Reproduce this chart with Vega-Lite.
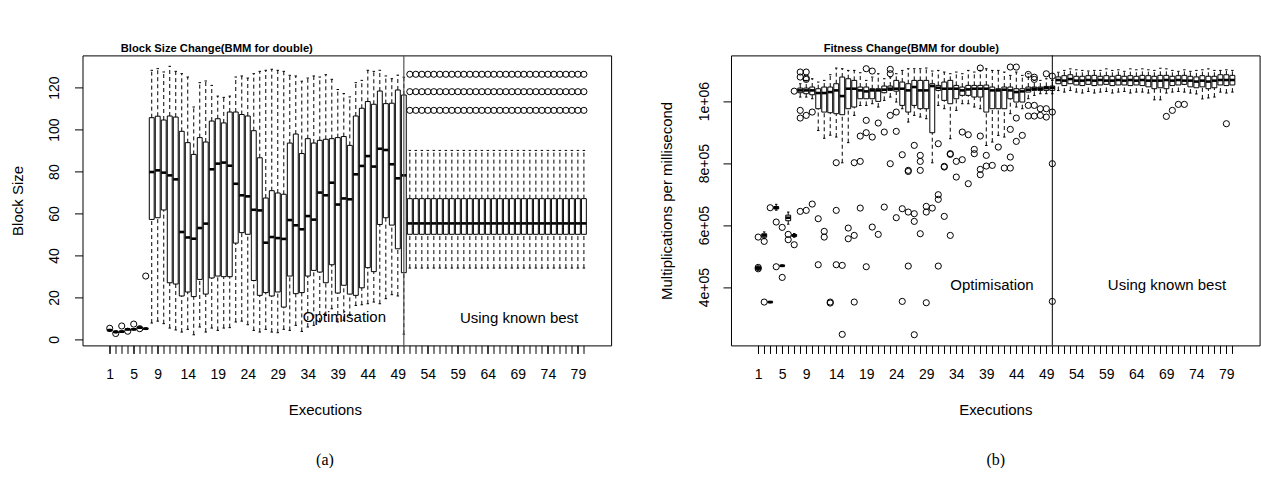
{
  "$schema": "https://vega.github.io/schema/vega-lite/v6.json",
  "padding": {"left": 9.5, "top": 41.4, "right": 0, "bottom": 0},
  "spacing": 46.5,
  "config": {
    "font": "Liberation Sans",
    "view": {"stroke": "black", "strokeWidth": 1},
    "axis": {"domain": false, "grid": false, "ticks": true, "tickColor": "black", "tickSize": 8, "tickWidth": 1, "labelColor": "black", "labelFont": "Liberation Sans", "labelFontSize": 14, "titleFont": "Liberation Sans", "titleFontSize": 15, "titleFontWeight": "normal", "titleColor": "black", "labelFlush": false}
  },
  "datasets": {
    "boxesA": [
      {"e":1,"lo":3.9,"q1":4.1,"md":4.4,"q3":4.6,"hi":4.8},
      {"e":2,"lo":3.1,"q1":3.3,"md":3.5,"q3":3.7,"hi":3.9},
      {"e":3,"lo":3.3,"q1":3.5,"md":3.7,"q3":3.9,"hi":4.1},
      {"e":4,"lo":4.5,"q1":4.6,"md":4.8,"q3":5.0,"hi":5.2},
      {"e":5,"lo":4.5,"q1":4.6,"md":4.8,"q3":5.0,"hi":5.2},
      {"e":6,"lo":5.2,"q1":5.4,"md":5.6,"q3":5.8,"hi":6.0},
      {"e":7,"lo":4.7,"q1":4.9,"md":5.1,"q3":5.3,"hi":5.5},
      {"e":8,"lo":7.8,"q1":57.2,"md":79.8,"q3":105.7,"hi":128.3},
      {"e":9,"lo":8.7,"q1":58.0,"md":80.6,"q3":106.4,"hi":129.1},
      {"e":10,"lo":7.5,"q1":61.7,"md":79.5,"q3":104.6,"hi":127.5},
      {"e":11,"lo":5.4,"q1":27.0,"md":78.2,"q3":106.5,"hi":130.2},
      {"e":12,"lo":4.5,"q1":26.4,"md":76.3,"q3":106.0,"hi":127.8},
      {"e":13,"lo":3.5,"q1":20.7,"md":51.2,"q3":99.2,"hi":126.7},
      {"e":14,"lo":4.8,"q1":22.6,"md":48.6,"q3":93.8,"hi":125.1},
      {"e":15,"lo":2.2,"q1":20.4,"md":48.0,"q3":88.2,"hi":110.8},
      {"e":16,"lo":5.9,"q1":28.6,"md":53.1,"q3":96.2,"hi":122.4},
      {"e":17,"lo":3.5,"q1":21.6,"md":55.2,"q3":94.1,"hi":123.2},
      {"e":18,"lo":5.4,"q1":29.3,"md":81.1,"q3":104.1,"hi":121.1},
      {"e":19,"lo":4.3,"q1":30.2,"md":83.8,"q3":105.2,"hi":116.0},
      {"e":20,"lo":5.4,"q1":29.9,"md":84.3,"q3":103.2,"hi":115.4},
      {"e":21,"lo":5.6,"q1":29.9,"md":82.8,"q3":108.4,"hi":116.0},
      {"e":22,"lo":8.3,"q1":45.9,"md":74.2,"q3":108.4,"hi":125.1},
      {"e":23,"lo":8.7,"q1":50.9,"md":68.7,"q3":107.2,"hi":125.6},
      {"e":24,"lo":7.0,"q1":50.1,"md":68.2,"q3":106.5,"hi":124.6},
      {"e":25,"lo":4.3,"q1":28.1,"md":61.8,"q3":99.5,"hi":126.7},
      {"e":26,"lo":3.5,"q1":21.0,"md":61.5,"q3":86.6,"hi":127.8},
      {"e":27,"lo":4.8,"q1":22.3,"md":46.1,"q3":67.4,"hi":128.3},
      {"e":28,"lo":3.5,"q1":20.7,"md":48.8,"q3":70.9,"hi":128.8},
      {"e":29,"lo":3.2,"q1":22.6,"md":48.3,"q3":69.8,"hi":128.3},
      {"e":30,"lo":4.8,"q1":15.4,"md":47.9,"q3":69.2,"hi":127.8},
      {"e":31,"lo":4.3,"q1":30.2,"md":56.9,"q3":93.6,"hi":125.9},
      {"e":32,"lo":6.7,"q1":21.8,"md":54.4,"q3":97.9,"hi":125.6},
      {"e":33,"lo":3.8,"q1":22.3,"md":52.5,"q3":88.6,"hi":123.1},
      {"e":34,"lo":5.9,"q1":30.2,"md":58.8,"q3":95.7,"hi":124.6},
      {"e":35,"lo":6.7,"q1":32.9,"md":57.1,"q3":93.6,"hi":125.6},
      {"e":36,"lo":8.3,"q1":32.1,"md":70.0,"q3":94.9,"hi":125.1},
      {"e":37,"lo":11.4,"q1":27.0,"md":68.7,"q3":95.4,"hi":126.2},
      {"e":38,"lo":14.6,"q1":35.6,"md":74.7,"q3":95.7,"hi":124.0},
      {"e":39,"lo":8.3,"q1":22.1,"md":64.3,"q3":96.2,"hi":119.2},
      {"e":40,"lo":9.1,"q1":25.8,"md":67.2,"q3":96.7,"hi":117.2},
      {"e":41,"lo":11.4,"q1":21.6,"md":66.8,"q3":92.5,"hi":115.6},
      {"e":42,"lo":16.2,"q1":21.0,"md":78.7,"q3":106.5,"hi":122.4},
      {"e":43,"lo":16.5,"q1":24.6,"md":82.7,"q3":110.2,"hi":123.5},
      {"e":44,"lo":17.0,"q1":34.2,"md":87.4,"q3":113.4,"hi":128.3},
      {"e":45,"lo":17.8,"q1":32.3,"md":82.4,"q3":112.1,"hi":127.8},
      {"e":46,"lo":17.0,"q1":54.8,"md":90.9,"q3":118.4,"hi":128.3},
      {"e":47,"lo":19.4,"q1":58.0,"md":90.3,"q3":112.4,"hi":125.6},
      {"e":48,"lo":21.3,"q1":54.5,"md":83.5,"q3":112.6,"hi":124.3},
      {"e":49,"lo":20.7,"q1":43.2,"md":76.8,"q3":118.9,"hi":126.0},
      {"e":50,"lo":2.5,"q1":31.8,"md":78.2,"q3":116.5,"hi":125.0},
      {"e":51,"lo":34,"q1":50.1,"md":55.3,"q3":67.1,"hi":90.1},
      {"e":52,"lo":34,"q1":50.1,"md":55.3,"q3":67.1,"hi":90.1},
      {"e":53,"lo":34,"q1":50.1,"md":55.3,"q3":67.1,"hi":90.1},
      {"e":54,"lo":34,"q1":50.1,"md":55.3,"q3":67.1,"hi":90.1},
      {"e":55,"lo":34,"q1":50.1,"md":55.3,"q3":67.1,"hi":90.1},
      {"e":56,"lo":34,"q1":50.1,"md":55.3,"q3":67.1,"hi":90.1},
      {"e":57,"lo":34,"q1":50.1,"md":55.3,"q3":67.1,"hi":90.1},
      {"e":58,"lo":34,"q1":50.1,"md":55.3,"q3":67.1,"hi":90.1},
      {"e":59,"lo":34,"q1":50.1,"md":55.3,"q3":67.1,"hi":90.1},
      {"e":60,"lo":34,"q1":50.1,"md":55.3,"q3":67.1,"hi":90.1},
      {"e":61,"lo":34,"q1":50.1,"md":55.3,"q3":67.1,"hi":90.1},
      {"e":62,"lo":34,"q1":50.1,"md":55.3,"q3":67.1,"hi":90.1},
      {"e":63,"lo":34,"q1":50.1,"md":55.3,"q3":67.1,"hi":90.1},
      {"e":64,"lo":34,"q1":50.1,"md":55.3,"q3":67.1,"hi":90.1},
      {"e":65,"lo":34,"q1":50.1,"md":55.3,"q3":67.1,"hi":90.1},
      {"e":66,"lo":34,"q1":50.1,"md":55.3,"q3":67.1,"hi":90.1},
      {"e":67,"lo":34,"q1":50.1,"md":55.3,"q3":67.1,"hi":90.1},
      {"e":68,"lo":34,"q1":50.1,"md":55.3,"q3":67.1,"hi":90.1},
      {"e":69,"lo":34,"q1":50.1,"md":55.3,"q3":67.1,"hi":90.1},
      {"e":70,"lo":34,"q1":50.1,"md":55.3,"q3":67.1,"hi":90.1},
      {"e":71,"lo":34,"q1":50.1,"md":55.3,"q3":67.1,"hi":90.1},
      {"e":72,"lo":34,"q1":50.1,"md":55.3,"q3":67.1,"hi":90.1},
      {"e":73,"lo":34,"q1":50.1,"md":55.3,"q3":67.1,"hi":90.1},
      {"e":74,"lo":34,"q1":50.1,"md":55.3,"q3":67.1,"hi":90.1},
      {"e":75,"lo":34,"q1":50.1,"md":55.3,"q3":67.1,"hi":90.1},
      {"e":76,"lo":34,"q1":50.1,"md":55.3,"q3":67.1,"hi":90.1},
      {"e":77,"lo":34,"q1":50.1,"md":55.3,"q3":67.1,"hi":90.1},
      {"e":78,"lo":34,"q1":50.1,"md":55.3,"q3":67.1,"hi":90.1},
      {"e":79,"lo":34,"q1":50.1,"md":55.3,"q3":67.1,"hi":90.1},
      {"e":80,"lo":34,"q1":50.1,"md":55.3,"q3":67.1,"hi":90.1}
    ],
    "outA": [
      {"e":1,"v":5.3},{"e":2,"v":2.8},{"e":3,"v":6.4},{"e":4,"v":3.9},{"e":5,"v":7.3},{"e":6,"v":5.1},{"e":7,"v":30.2},
      {"e":51,"v":109.2},{"e":51,"v":118.1},{"e":51,"v":126.4},
      {"e":52,"v":109.2},{"e":52,"v":118.1},{"e":52,"v":126.4},
      {"e":53,"v":109.2},{"e":53,"v":118.1},{"e":53,"v":126.4},
      {"e":54,"v":109.2},{"e":54,"v":118.1},{"e":54,"v":126.4},
      {"e":55,"v":109.2},{"e":55,"v":118.1},{"e":55,"v":126.4},
      {"e":56,"v":109.2},{"e":56,"v":118.1},{"e":56,"v":126.4},
      {"e":57,"v":109.2},{"e":57,"v":118.1},{"e":57,"v":126.4},
      {"e":58,"v":109.2},{"e":58,"v":118.1},{"e":58,"v":126.4},
      {"e":59,"v":109.2},{"e":59,"v":118.1},{"e":59,"v":126.4},
      {"e":60,"v":109.2},{"e":60,"v":118.1},{"e":60,"v":126.4},
      {"e":61,"v":109.2},{"e":61,"v":118.1},{"e":61,"v":126.4},
      {"e":62,"v":109.2},{"e":62,"v":118.1},{"e":62,"v":126.4},
      {"e":63,"v":109.2},{"e":63,"v":118.1},{"e":63,"v":126.4},
      {"e":64,"v":109.2},{"e":64,"v":118.1},{"e":64,"v":126.4},
      {"e":65,"v":109.2},{"e":65,"v":118.1},{"e":65,"v":126.4},
      {"e":66,"v":109.2},{"e":66,"v":118.1},{"e":66,"v":126.4},
      {"e":67,"v":109.2},{"e":67,"v":118.1},{"e":67,"v":126.4},
      {"e":68,"v":109.2},{"e":68,"v":118.1},{"e":68,"v":126.4},
      {"e":69,"v":109.2},{"e":69,"v":118.1},{"e":69,"v":126.4},
      {"e":70,"v":109.2},{"e":70,"v":118.1},{"e":70,"v":126.4},
      {"e":71,"v":109.2},{"e":71,"v":118.1},{"e":71,"v":126.4},
      {"e":72,"v":109.2},{"e":72,"v":118.1},{"e":72,"v":126.4},
      {"e":73,"v":109.2},{"e":73,"v":118.1},{"e":73,"v":126.4},
      {"e":74,"v":109.2},{"e":74,"v":118.1},{"e":74,"v":126.4},
      {"e":75,"v":109.2},{"e":75,"v":118.1},{"e":75,"v":126.4},
      {"e":76,"v":109.2},{"e":76,"v":118.1},{"e":76,"v":126.4},
      {"e":77,"v":109.2},{"e":77,"v":118.1},{"e":77,"v":126.4},
      {"e":78,"v":109.2},{"e":78,"v":118.1},{"e":78,"v":126.4},
      {"e":79,"v":109.2},{"e":79,"v":118.1},{"e":79,"v":126.4},
      {"e":80,"v":109.2},{"e":80,"v":118.1},{"e":80,"v":126.4}
    ],
    "txtA": [
      {"e":40.1,"v":10.6,"t":"Optimisation"},
      {"e":69.2,"v":10.4,"t":"Using known best"}
    ],
    "boxesB": [
      {"e":1,"lo":455000,"q1":458000,"md":461000,"q3":464000,"hi":467000},
      {"e":2,"lo":556000,"q1":561000,"md":566700,"q3":572000,"hi":578000},
      {"e":3,"lo":349000,"q1":350500,"md":351700,"q3":353000,"hi":354000},
      {"e":4,"lo":648000,"q1":652000,"md":656000,"q3":660000,"hi":667000},
      {"e":5,"lo":466000,"q1":467500,"md":468800,"q3":470000,"hi":471500},
      {"e":6,"lo":603000,"q1":614000,"md":623700,"q3":632000,"hi":642000},
      {"e":7,"lo":561000,"q1":563500,"md":566700,"q3":569500,"hi":573000},
      {"e":8,"lo":1013000,"q1":1027000,"md":1034500,"q3":1041900,"hi":1056000},
      {"e":9,"lo":1013000,"q1":1023800,"md":1034500,"q3":1041900,"hi":1066800},
      {"e":10,"lo":1007600,"q1":1020500,"md":1034500,"q3":1045300,"hi":1072100},
      {"e":11,"lo":905000,"q1":975400,"md":1026000,"q3":1039900,"hi":1061400},
      {"e":12,"lo":880000,"q1":964600,"md":1026000,"q3":1045300,"hi":1066800},
      {"e":13,"lo":890000,"q1":962500,"md":1029100,"q3":1045300,"hi":1085000},
      {"e":14,"lo":884000,"q1":959300,"md":1034500,"q3":1056000,"hi":1106600},
      {"e":15,"lo":801000,"q1":956100,"md":1016200,"q3":1077500,"hi":1104400},
      {"e":16,"lo":866000,"q1":975400,"md":1039900,"q3":1072100,"hi":1099000},
      {"e":17,"lo":953900,"q1":980800,"md":1039900,"q3":1066800,"hi":1099000},
      {"e":18,"lo":986100,"q1":1007600,"md":1034500,"q3":1045300,"hi":1091500},
      {"e":19,"lo":986100,"q1":1007600,"md":1031300,"q3":1045300,"hi":1066800},
      {"e":20,"lo":991500,"q1":1007600,"md":1034500,"q3":1039900,"hi":1077500},
      {"e":21,"lo":980800,"q1":999100,"md":1034500,"q3":1039900,"hi":1088300},
      {"e":22,"lo":1002300,"q1":1027000,"md":1036800,"q3":1048500,"hi":1072100},
      {"e":23,"lo":1013000,"q1":1034500,"md":1039900,"q3":1048500,"hi":1077500},
      {"e":24,"lo":996900,"q1":1032000,"md":1039900,"q3":1066800,"hi":1088300},
      {"e":25,"lo":975400,"q1":986100,"md":1039900,"q3":1061400,"hi":1099000},
      {"e":26,"lo":932400,"q1":964600,"md":1034500,"q3":1056000,"hi":1104400},
      {"e":27,"lo":953900,"q1":986100,"md":1045300,"q3":1066800,"hi":1104400},
      {"e":28,"lo":948500,"q1":975400,"md":1034500,"q3":1066800,"hi":1104400},
      {"e":29,"lo":943100,"q1":975400,"md":1034500,"q3":1066800,"hi":1106600},
      {"e":30,"lo":801000,"q1":898000,"md":1048500,"q3":1056000,"hi":1097000},
      {"e":31,"lo":986100,"q1":1034500,"md":1043000,"q3":1050600,"hi":1099000},
      {"e":32,"lo":975400,"q1":1002300,"md":1039900,"q3":1061400,"hi":1093700},
      {"e":33,"lo":878600,"q1":991500,"md":1039900,"q3":1066800,"hi":1088300},
      {"e":34,"lo":970000,"q1":1007600,"md":1039900,"q3":1050600,"hi":1093700},
      {"e":35,"lo":991500,"q1":1018400,"md":1034500,"q3":1045300,"hi":1088300},
      {"e":36,"lo":991500,"q1":1018400,"md":1037700,"q3":1050600,"hi":1099000},
      {"e":37,"lo":980800,"q1":1013000,"md":1039900,"q3":1050600,"hi":1093700},
      {"e":38,"lo":975400,"q1":1013000,"md":1039900,"q3":1050600,"hi":1099000},
      {"e":39,"lo":857100,"q1":964600,"md":1039900,"q3":1051700,"hi":1104400},
      {"e":40,"lo":867900,"q1":975400,"md":1034500,"q3":1045300,"hi":1099000},
      {"e":41,"lo":889400,"q1":975400,"md":1034500,"q3":1039900,"hi":1099000},
      {"e":42,"lo":884000,"q1":975400,"md":1036800,"q3":1045300,"hi":1093700},
      {"e":43,"lo":959300,"q1":1007600,"md":1034500,"q3":1045300,"hi":1082900},
      {"e":44,"lo":980800,"q1":996900,"md":1029100,"q3":1039900,"hi":1093700},
      {"e":45,"lo":975400,"q1":996900,"md":1031300,"q3":1039900,"hi":1082900},
      {"e":46,"lo":1007600,"q1":1029100,"md":1036800,"q3":1045300,"hi":1088300},
      {"e":47,"lo":1018400,"q1":1034500,"md":1039900,"q3":1045300,"hi":1066800},
      {"e":48,"lo":1023800,"q1":1034500,"md":1039900,"q3":1045300,"hi":1066800},
      {"e":49,"lo":1023800,"q1":1034500,"md":1042000,"q3":1047400,"hi":1072100},
      {"e":50,"lo":1023800,"q1":1034500,"md":1043000,"q3":1048500,"hi":1066800},
      {"e":51,"lo":1034000,"q1":1056000,"md":1068000,"q3":1078000,"hi":1093000},
      {"e":52,"lo":1029000,"q1":1050000,"md":1066000,"q3":1082000,"hi":1099000},
      {"e":53,"lo":1034000,"q1":1056000,"md":1071000,"q3":1085000,"hi":1104000},
      {"e":54,"lo":1029000,"q1":1052000,"md":1066000,"q3":1080000,"hi":1101000},
      {"e":55,"lo":1026000,"q1":1050000,"md":1066000,"q3":1080000,"hi":1099000},
      {"e":56,"lo":1031000,"q1":1054000,"md":1068000,"q3":1082000,"hi":1097000},
      {"e":57,"lo":1026000,"q1":1050000,"md":1066000,"q3":1083000,"hi":1099000},
      {"e":58,"lo":1029000,"q1":1052000,"md":1068000,"q3":1080000,"hi":1099000},
      {"e":59,"lo":1031000,"q1":1054000,"md":1066000,"q3":1082000,"hi":1104000},
      {"e":60,"lo":1026000,"q1":1050000,"md":1066000,"q3":1080000,"hi":1099000},
      {"e":61,"lo":1029000,"q1":1052000,"md":1068000,"q3":1083000,"hi":1101000},
      {"e":62,"lo":1031000,"q1":1052000,"md":1066000,"q3":1080000,"hi":1096000},
      {"e":63,"lo":1026000,"q1":1050000,"md":1068000,"q3":1082000,"hi":1104000},
      {"e":64,"lo":1029000,"q1":1052000,"md":1066000,"q3":1080000,"hi":1101000},
      {"e":65,"lo":1029000,"q1":1050000,"md":1068000,"q3":1083000,"hi":1104000},
      {"e":66,"lo":1026000,"q1":1046000,"md":1066000,"q3":1082000,"hi":1101000},
      {"e":67,"lo":1004000,"q1":1040000,"md":1066000,"q3":1080000,"hi":1099000},
      {"e":68,"lo":1004000,"q1":1043000,"md":1066000,"q3":1083000,"hi":1106000},
      {"e":69,"lo":1026000,"q1":1040000,"md":1068000,"q3":1083000,"hi":1104000},
      {"e":70,"lo":1029000,"q1":1050000,"md":1066000,"q3":1080000,"hi":1099000},
      {"e":71,"lo":1031000,"q1":1052000,"md":1068000,"q3":1082000,"hi":1096000},
      {"e":72,"lo":1029000,"q1":1054000,"md":1066000,"q3":1083000,"hi":1101000},
      {"e":73,"lo":1026000,"q1":1046000,"md":1066000,"q3":1080000,"hi":1096000},
      {"e":74,"lo":1023000,"q1":1043000,"md":1063000,"q3":1078000,"hi":1099000},
      {"e":75,"lo":1007000,"q1":1046000,"md":1066000,"q3":1082000,"hi":1101000},
      {"e":76,"lo":1010000,"q1":1040000,"md":1063000,"q3":1080000,"hi":1104000},
      {"e":77,"lo":1013000,"q1":1043000,"md":1066000,"q3":1080000,"hi":1099000},
      {"e":78,"lo":1029000,"q1":1052000,"md":1068000,"q3":1085000,"hi":1099000},
      {"e":79,"lo":1026000,"q1":1050000,"md":1068000,"q3":1085000,"hi":1101000},
      {"e":80,"lo":1029000,"q1":1052000,"md":1068000,"q3":1083000,"hi":1099000}
    ],
    "outB": [
      {"e":1,"v":463500},{"e":1,"v":459000},{"e":1,"v":561300},
      {"e":2,"v":547400},{"e":2,"v":351700},
      {"e":3,"v":656000},
      {"e":4,"v":609800},{"e":4,"v":465600},
      {"e":5,"v":592600},{"e":5,"v":431200},
      {"e":6,"v":570000},{"e":6,"v":552800},
      {"e":7,"v":536600},{"e":7,"v":1032000},
      {"e":8,"v":1093700},{"e":8,"v":1077500},{"e":8,"v":970000},{"e":8,"v":945300},{"e":8,"v":644200},
      {"e":9,"v":1093700},{"e":9,"v":1074300},{"e":9,"v":1070000},{"e":9,"v":953900},{"e":9,"v":647400},
      {"e":10,"v":964600},{"e":10,"v":667800},
      {"e":11,"v":620500},{"e":11,"v":472100},
      {"e":12,"v":579700},{"e":12,"v":561300},
      {"e":13,"v":351700},{"e":13,"v":348500},
      {"e":14,"v":801200},{"e":14,"v":647400},{"e":14,"v":472100},
      {"e":15,"v":470000},{"e":15,"v":247400},
      {"e":16,"v":590400},{"e":16,"v":555900},
      {"e":17,"v":801200},{"e":17,"v":566700},{"e":17,"v":351700},
      {"e":18,"v":805500},{"e":18,"v":887200},{"e":18,"v":654900},
      {"e":19,"v":1104400},{"e":19,"v":937800},{"e":19,"v":898000},{"e":19,"v":465600},
      {"e":20,"v":1096900},{"e":20,"v":884000},{"e":20,"v":593600},
      {"e":21,"v":929200},{"e":21,"v":570000},
      {"e":22,"v":900100},{"e":22,"v":658100},
      {"e":23,"v":1102300},{"e":23,"v":1088300},{"e":23,"v":953900},{"e":23,"v":798000},
      {"e":24,"v":964600},{"e":24,"v":902300},{"e":24,"v":623800},
      {"e":25,"v":827000},{"e":25,"v":652800},{"e":25,"v":353800},
      {"e":26,"v":776500},{"e":26,"v":773000},{"e":26,"v":642000},{"e":26,"v":467800},
      {"e":27,"v":857100},{"e":27,"v":636700},{"e":27,"v":611900},{"e":27,"v":246300},
      {"e":28,"v":824900},{"e":28,"v":805500},{"e":28,"v":776500},{"e":28,"v":572100},
      {"e":29,"v":660300},{"e":29,"v":642000},{"e":29,"v":349500},
      {"e":30,"v":654900},
      {"e":31,"v":862500},{"e":31,"v":698000},{"e":31,"v":682900},{"e":31,"v":467800},
      {"e":32,"v":789400},{"e":32,"v":787200},{"e":32,"v":628100},
      {"e":33,"v":828100},{"e":33,"v":830500},{"e":33,"v":566700},
      {"e":34,"v":805500},{"e":34,"v":755000},
      {"e":35,"v":810900},{"e":35,"v":900100},
      {"e":36,"v":891500},{"e":36,"v":733500},
      {"e":37,"v":844200},{"e":37,"v":830300},
      {"e":38,"v":1106600},{"e":38,"v":887200},{"e":38,"v":779700},{"e":38,"v":762500},
      {"e":39,"v":790400},{"e":39,"v":824900},
      {"e":40,"v":792600},
      {"e":41,"v":851700},
      {"e":42,"v":784000},
      {"e":43,"v":1109800},{"e":43,"v":908700},{"e":43,"v":819500},{"e":43,"v":784000},
      {"e":44,"v":1109800},{"e":44,"v":945300},{"e":44,"v":870000},
      {"e":45,"v":889400},
      {"e":46,"v":1086000},{"e":46,"v":986100},{"e":46,"v":951700},
      {"e":47,"v":1077000},{"e":47,"v":1070000},{"e":47,"v":986100},{"e":47,"v":951700},
      {"e":48,"v":975400},{"e":48,"v":953900},
      {"e":49,"v":1088000},{"e":49,"v":975400},{"e":49,"v":948500},
      {"e":50,"v":1080700},{"e":50,"v":964600},{"e":50,"v":798000},{"e":50,"v":353800},
      {"e":69,"v":950600},{"e":70,"v":970000},{"e":71,"v":989400},{"e":72,"v":989400},{"e":79,"v":927000}
    ],
    "txtB": [
      {"e":39.95,"v":405500,"t":"Optimisation"},
      {"e":69.1,"v":405500,"t":"Using known best"}
    ],
    "split": [{"e":50}]
  },
  "hconcat": [
    {
      "title": {"text": "(a)", "orient": "bottom", "anchor": "middle", "font": "Liberation Serif", "fontSize": 16, "fontWeight": "normal", "color": "black", "baseline": "middle", "offset": 42, "dx": 14},
      "vconcat": [
        {
          "width": 528.6,
          "height": 290,
          "title": {"text": "Block Size Change(BMM for double)", "anchor": "middle", "frame": "group", "font": "Liberation Sans", "fontSize": 11.2, "fontWeight": "bold", "color": "black", "baseline": "middle", "offset": -5, "dx": -130},
          "resolve": {"axis": {"x": "independent"}},
          "layer": [
            {"data": {"name": "boxesA"}, "mark": {"type": "rule", "strokeDash": [4, 3], "strokeWidth": 1, "color": "black"},
             "encoding": {
               "x": {"field": "e", "type": "quantitative", "scale": {"domain": [-2.7, 83.7], "nice": false, "zero": false},
                     "axis": {"orient": "bottom", "values": [1,2,3,4,5,6,7,8,9,10,11,12,13,14,15,16,17,18,19,20,21,22,23,24,25,26,27,28,29,30,31,32,33,34,35,36,37,38,39,40,41,42,43,44,45,46,47,48,49,50,51,52,53,54,55,56,57,58,59,60,61,62,63,64,65,66,67,68,69,70,71,72,73,74,75,76,77,78,79,80],
                              "tickCount": 200, "labels": false, "title": null}},
               "y": {"field": "q3", "type": "quantitative", "scale": {"domain": [-2.86, 135.4], "nice": false, "zero": false},
                     "axis": {"values": [0, 20, 40, 60, 80, 100, 120], "tickCount": 50, "labelOverlap": "greedy", "format": "d", "labelAngle": -90, "labelAlign": "center", "labelBaseline": "middle", "labelPadding": 20.5,
                              "title": "Block Size", "titleX": -64.7, "titleY": 145, "titleAngle": -90, "titleAlign": "center", "titleBaseline": "middle"}},
               "y2": {"field": "hi"}
             }},
            {"data": {"name": "boxesA"}, "mark": {"type": "rule", "strokeDash": [4, 3], "strokeWidth": 1, "color": "black"},
             "encoding": {
               "x": {"field": "e", "type": "quantitative", "scale": {"domain": [-2.7, 83.7], "nice": false, "zero": false}, "axis": null},
               "y": {"field": "lo", "type": "quantitative", "scale": {"domain": [-2.86, 135.4], "nice": false, "zero": false}},
               "y2": {"field": "q1"}
             }},
            {"data": {"name": "boxesA"}, "mark": {"type": "bar", "width": 4.9, "fill": "white", "stroke": "black", "strokeWidth": 1},
             "encoding": {
               "x": {"field": "e", "type": "quantitative", "scale": {"domain": [-2.7, 83.7], "nice": false, "zero": false}, "axis": null},
               "y": {"field": "q1", "type": "quantitative", "scale": {"domain": [-2.86, 135.4], "nice": false, "zero": false}},
               "y2": {"field": "q3"}
             }},
            {"data": {"name": "boxesA"}, "mark": {"type": "tick", "orient": "horizontal", "size": 4.9, "thickness": 2.6, "color": "black", "opacity": 1},
             "encoding": {
               "x": {"field": "e", "type": "quantitative", "scale": {"domain": [-2.7, 83.7], "nice": false, "zero": false}, "axis": null},
               "y": {"field": "md", "type": "quantitative", "scale": {"domain": [-2.86, 135.4], "nice": false, "zero": false}}
             }},
            {"data": {"name": "boxesA"}, "mark": {"type": "tick", "orient": "horizontal", "size": 2.5, "thickness": 1, "color": "black", "opacity": 1},
             "encoding": {
               "x": {"field": "e", "type": "quantitative", "scale": {"domain": [-2.7, 83.7], "nice": false, "zero": false}, "axis": null},
               "y": {"field": "hi", "type": "quantitative", "scale": {"domain": [-2.86, 135.4], "nice": false, "zero": false}}
             }},
            {"data": {"name": "boxesA"}, "mark": {"type": "tick", "orient": "horizontal", "size": 2.5, "thickness": 1, "color": "black", "opacity": 1},
             "encoding": {
               "x": {"field": "e", "type": "quantitative", "scale": {"domain": [-2.7, 83.7], "nice": false, "zero": false}, "axis": null},
               "y": {"field": "lo", "type": "quantitative", "scale": {"domain": [-2.86, 135.4], "nice": false, "zero": false}}
             }},
            {"data": {"name": "outA"}, "mark": {"type": "point", "shape": "circle", "filled": false, "size": 38, "stroke": "black", "strokeWidth": 1, "opacity": 1},
             "encoding": {
               "x": {"field": "e", "type": "quantitative", "scale": {"domain": [-2.7, 83.7], "nice": false, "zero": false}, "axis": null},
               "y": {"field": "v", "type": "quantitative", "scale": {"domain": [-2.86, 135.4], "nice": false, "zero": false}}
             }},
            {"data": {"name": "split"}, "mark": {"type": "rule", "color": "#555555", "strokeWidth": 1.2},
             "encoding": {
               "x": {"field": "e", "type": "quantitative", "scale": {"domain": [-2.7, 83.7], "nice": false, "zero": false},
                     "axis": {"orient": "bottom", "values": [1,5,9,14,19,24,29,34,39,44,49,54,59,64,69,74,79], "tickCount": 200, "labelOverlap": "greedy", "labelSeparation": 0, "format": "d",
                              "labelAngle": 0, "labelAlign": "center", "labelBaseline": "middle", "labelPadding": 21,
                              "title": "Executions", "titleX": 242.3, "titleY": 64, "titleAlign": "center", "titleBaseline": "middle"}}
             }},
            {"data": {"name": "txtA"}, "mark": {"type": "text", "font": "Liberation Sans", "fontSize": 15, "color": "black", "align": "center", "baseline": "middle"},
             "encoding": {
               "x": {"field": "e", "type": "quantitative", "scale": {"domain": [-2.7, 83.7], "nice": false, "zero": false}, "axis": null},
               "y": {"field": "v", "type": "quantitative", "scale": {"domain": [-2.86, 135.4], "nice": false, "zero": false}},
               "text": {"field": "t"}
             }}
          ]
        }
      ]
    },
    {
      "title": {"text": "(b)", "orient": "bottom", "anchor": "middle", "font": "Liberation Serif", "fontSize": 16, "fontWeight": "normal", "color": "black", "baseline": "middle", "offset": 42, "dx": 36},
      "vconcat": [
        {
          "width": 528.6,
          "height": 290,
          "title": {"text": "Fitness Change(BMM for double)", "anchor": "middle", "frame": "group", "font": "Liberation Sans", "fontSize": 11.2, "fontWeight": "bold", "color": "black", "baseline": "middle", "offset": -5, "dx": -84},
          "resolve": {"axis": {"x": "independent"}},
          "layer": [
            {"data": {"name": "boxesB"}, "mark": {"type": "rule", "strokeDash": [4, 3], "strokeWidth": 1, "color": "black"},
             "encoding": {
               "x": {"field": "e", "type": "quantitative", "scale": {"domain": [-2.7, 83.7], "nice": false, "zero": false},
                     "axis": {"orient": "bottom", "values": [1,2,3,4,5,6,7,8,9,10,11,12,13,14,15,16,17,18,19,20,21,22,23,24,25,26,27,28,29,30,31,32,33,34,35,36,37,38,39,40,41,42,43,44,45,46,47,48,49,50,51,52,53,54,55,56,57,58,59,60,61,62,63,64,65,66,67,68,69,70,71,72,73,74,75,76,77,78,79,80],
                              "tickCount": 200, "labels": false, "title": null}},
               "y": {"field": "q3", "type": "quantitative", "scale": {"domain": [211900, 1147400], "nice": false, "zero": false},
                     "axis": {"values": [400000, 600000, 800000, 1000000], "tickCount": 50, "labelOverlap": "greedy", "labelExpr": "datum.value >= 1000000 ? '1e+06' : format(datum.value / 100000, 'd') + 'e+05'",
                              "labelAngle": -90, "labelAlign": "center", "labelBaseline": "middle", "labelPadding": 18,
                              "title": "Multiplications per millisecond", "titleX": -64, "titleY": 145, "titleAngle": -90, "titleAlign": "center", "titleBaseline": "middle"}},
               "y2": {"field": "hi"}
             }},
            {"data": {"name": "boxesB"}, "mark": {"type": "rule", "strokeDash": [4, 3], "strokeWidth": 1, "color": "black"},
             "encoding": {
               "x": {"field": "e", "type": "quantitative", "scale": {"domain": [-2.7, 83.7], "nice": false, "zero": false}, "axis": null},
               "y": {"field": "lo", "type": "quantitative", "scale": {"domain": [211900, 1147400], "nice": false, "zero": false}},
               "y2": {"field": "q1"}
             }},
            {"data": {"name": "boxesB"}, "mark": {"type": "bar", "width": 4.9, "fill": "white", "stroke": "black", "strokeWidth": 1},
             "encoding": {
               "x": {"field": "e", "type": "quantitative", "scale": {"domain": [-2.7, 83.7], "nice": false, "zero": false}, "axis": null},
               "y": {"field": "q1", "type": "quantitative", "scale": {"domain": [211900, 1147400], "nice": false, "zero": false}},
               "y2": {"field": "q3"}
             }},
            {"data": {"name": "boxesB"}, "mark": {"type": "tick", "orient": "horizontal", "size": 4.9, "thickness": 2.6, "color": "black", "opacity": 1},
             "encoding": {
               "x": {"field": "e", "type": "quantitative", "scale": {"domain": [-2.7, 83.7], "nice": false, "zero": false}, "axis": null},
               "y": {"field": "md", "type": "quantitative", "scale": {"domain": [211900, 1147400], "nice": false, "zero": false}}
             }},
            {"data": {"name": "boxesB"}, "mark": {"type": "tick", "orient": "horizontal", "size": 2.5, "thickness": 1, "color": "black", "opacity": 1},
             "encoding": {
               "x": {"field": "e", "type": "quantitative", "scale": {"domain": [-2.7, 83.7], "nice": false, "zero": false}, "axis": null},
               "y": {"field": "hi", "type": "quantitative", "scale": {"domain": [211900, 1147400], "nice": false, "zero": false}}
             }},
            {"data": {"name": "boxesB"}, "mark": {"type": "tick", "orient": "horizontal", "size": 2.5, "thickness": 1, "color": "black", "opacity": 1},
             "encoding": {
               "x": {"field": "e", "type": "quantitative", "scale": {"domain": [-2.7, 83.7], "nice": false, "zero": false}, "axis": null},
               "y": {"field": "lo", "type": "quantitative", "scale": {"domain": [211900, 1147400], "nice": false, "zero": false}}
             }},
            {"data": {"name": "outB"}, "mark": {"type": "point", "shape": "circle", "filled": false, "size": 38, "stroke": "black", "strokeWidth": 1, "opacity": 1},
             "encoding": {
               "x": {"field": "e", "type": "quantitative", "scale": {"domain": [-2.7, 83.7], "nice": false, "zero": false}, "axis": null},
               "y": {"field": "v", "type": "quantitative", "scale": {"domain": [211900, 1147400], "nice": false, "zero": false}}
             }},
            {"data": {"name": "split"}, "mark": {"type": "rule", "color": "black", "strokeWidth": 1},
             "encoding": {
               "x": {"field": "e", "type": "quantitative", "scale": {"domain": [-2.7, 83.7], "nice": false, "zero": false},
                     "axis": {"orient": "bottom", "values": [1,5,9,14,19,24,29,34,39,44,49,54,59,64,69,74,79], "tickCount": 200, "labelOverlap": "greedy", "labelSeparation": 0, "format": "d",
                              "labelAngle": 0, "labelAlign": "center", "labelBaseline": "middle", "labelPadding": 21,
                              "title": "Executions", "titleX": 264.3, "titleY": 64, "titleAlign": "center", "titleBaseline": "middle"}}
             }},
            {"data": {"name": "txtB"}, "mark": {"type": "text", "font": "Liberation Sans", "fontSize": 15, "color": "black", "align": "center", "baseline": "middle"},
             "encoding": {
               "x": {"field": "e", "type": "quantitative", "scale": {"domain": [-2.7, 83.7], "nice": false, "zero": false}, "axis": null},
               "y": {"field": "v", "type": "quantitative", "scale": {"domain": [211900, 1147400], "nice": false, "zero": false}},
               "text": {"field": "t"}
             }}
          ]
        }
      ]
    }
  ]
}
